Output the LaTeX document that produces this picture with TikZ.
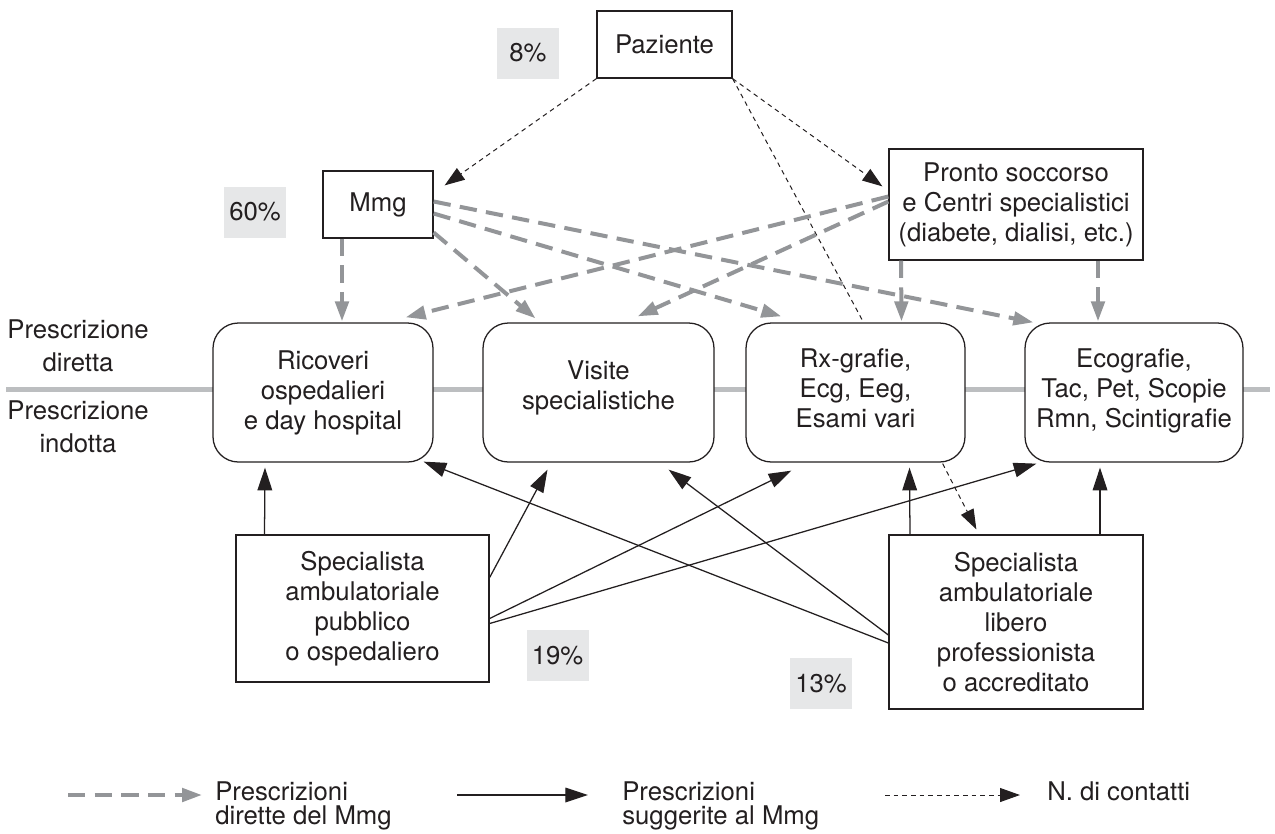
\documentclass[tikz,border=0pt]{standalone}
\usepackage{fontspec}
\setmainfont{TeX Gyre Heros}
\usetikzlibrary{arrows.meta,calc}
\definecolor{ink}{HTML}{231F20}
\definecolor{dgray}{HTML}{939598}
\definecolor{lgray}{HTML}{BCBEC0}
\definecolor{pbox}{HTML}{E6E7E8}
\begin{document}
\begin{tikzpicture}[x=0.75pt,y=-0.75pt,
  every node/.style={font=\fontsize{19.3}{22.5}\selectfont, text=ink},
  box/.style={draw=ink, line width=0.95pt, fill=white, align=center, inner sep=0pt},
  rbox/.style={box, rounded corners=19pt, minimum height=104.25pt},
  pct/.style={fill=pbox, inner sep=0pt, minimum width=46.5pt, minimum height=38.25pt},
  sidelabel/.style={align=center, inner sep=0pt, font=\fontsize{19.3}{24.75}\selectfont},
  legtext/.style={align=left, inner sep=0pt, anchor=north west, font=\fontsize{19.3}{18}\selectfont},
  direct/.style={draw=dgray, line width=3pt, dash pattern=on 13pt off 7pt, -{Triangle[length=15pt,width=10pt]}},
  suggest/.style={draw=ink, line width=0.95pt, -{Triangle[length=17pt,width=11pt]}},
  contact/.style={draw=ink, line width=0.75pt, dash pattern=on 3.5pt off 3pt, -{Triangle[length=15pt,width=10.5pt]}},
]
\useasboundingbox (0,0) rectangle (1275,833);

% separator line
\coordinate (sepL) at (6,389);
\coordinate (sepR) at (1270,389);
\draw[lgray, line width=3.75pt] (sepL) -- (sepR);

% side labels
\node[sidelabel] (dir) at (78,346) {Prescrizione\\diretta};
\node[sidelabel] (ind) at (78,427) {Prescrizione\\indotta};

% top boxes
\node[box, minimum width=101.25pt, minimum height=50.25pt] (paz) at (664.5,44.5) {Paziente};
\node[box, minimum width=82.5pt, minimum height=50.25pt] (mmg) at (378,204.5) {Mmg};
\node[box, minimum width=190.5pt, minimum height=83.25pt] (pronto) at (1016,204.5) {Pronto soccorso\\e Centri specialistici\\(diabete, dialisi, etc.)};

% percentages
\node[pct] (p8) at (528,53) {8\%};
\node[pct] (p60) at (255,212) {60\%};
\node[pct] (p19) at (557.5,655.5) {19\%};
\node[pct] (p13) at (821,683.5) {13\%};

% service boxes
\node[rbox, minimum width=165pt] (ric) at (323,392.5) {Ricoveri\\ospedalieri\\e day hospital};
\node[rbox, minimum width=173.25pt] (vis) at (598.5,392.5) {Visite\\specialistiche\\[-12pt]\mbox{}};
\node[rbox, minimum width=164.25pt] (rx) at (855.5,392.5) {Rx-grafie,\\Ecg, Eeg,\\Esami vari\\[-16pt]\mbox{}};
\node[rbox, minimum width=163.5pt] (eco) at (1134,392.5) {Ecografie,\\Tac, Pet, Scopie\\Rmn, Scintigrafie\\[-16pt]\mbox{}};

% specialist boxes
\node[box, minimum width=189.75pt, minimum height=110.25pt] (pub) at (362.5,608.5) {Specialista\\ambulatoriale\\pubblico\\o ospedaliero};
\node[box, minimum width=190.5pt, minimum height=130.5pt] (lib) at (1016,622) {Specialista\\ambulatoriale\\libero\\professionista\\o accreditato};

% contacts (thin dashed)
\draw[contact] (paz.south west) -- ($(mmg.north east)+(11,15)$);
\draw[contact] (paz.south east) -- ($(pronto.north west)+(-6,38)$);
\draw[contact, -] (paz.south east) -- ($(rx.north)+(8,0)$);
\draw[contact] ($(rx.south east)+(-23,1)$) -- ($(lib.north west)+(88,-5)$);

% direct prescriptions (grey dashed)
\draw[direct] ($(mmg.south)+(-36,0)$) -- ($(ric.north)+(19,-1)$);
\draw[direct] ($(mmg.east)+(0,28)$) -- ($(vis.north)+(-63,-4)$);
\draw[direct] ($(mmg.east)+(0,9)$) -- ($(rx.north west)+(36,-6)$);
\draw[direct] ($(mmg.east)+(0,-3)$) -- ($(eco.north west)+(9,0)$);
\draw[direct] ($(pronto.west)+(0,-8)$) -- ($(ric.north east)+(-28,-5)$);
\draw[direct] ($(pronto.west)+(0,-3)$) -- ($(vis.north east)+(-77,-6)$);
\draw[direct] ($(pronto.south)+(-115,0)$) -- ($(rx.north)+(46,-1)$);
\draw[direct] ($(pronto.south)+(82,0)$) -- ($(eco.north)+(-36,-1)$);

% suggested prescriptions (solid)
\draw[suggest] ($(pub.north)+(-98,0)$) -- ($(ric.south)+(-58,5)$);
\draw[suggest] ($(pub.east)+(0,-31)$) -- ($(vis.south)+(-51,7)$);
\draw[suggest] ($(pub.east)+(0,10)$) -- ($(rx.south west)+(46,8)$);
\draw[suggest] ($(pub.east)+(0,15)$) -- ($(eco.south west)+(12,1)$);
\draw[suggest] ($(lib.west)+(0,21)$) -- ($(ric.south east)+(-10,-1)$);
\draw[suggest] ($(lib.west)+(0,13)$) -- ($(vis.south east)+(-46,7)$);
\draw[suggest] ($(lib.north)+(-106,0)$) -- ($(rx.south)+(54,5)$);
\draw[suggest] ($(lib.north)+(84,0)$) -- ($(eco.south)+(-34,5)$);

% legend
\coordinate (la1) at (68,795);  \coordinate (lb1) at (202,795);
\coordinate (la2) at (457,795); \coordinate (lb2) at (588,795);
\coordinate (la3) at (885,795); \coordinate (lb3) at (1020,795);
\draw[direct] (la1) -- (lb1);
\draw[suggest] (la2) -- (lb2);
\draw[contact] (la3) -- (lb3);
\node[legtext] (lt1) at (215,781) {Prescrizioni\\dirette del Mmg};
\node[legtext] (lt2) at (622,781) {Prescrizioni\\suggerite al Mmg};
\node[legtext] (lt3) at (1047,781) {N. di contatti};
\end{tikzpicture}
\end{document}
